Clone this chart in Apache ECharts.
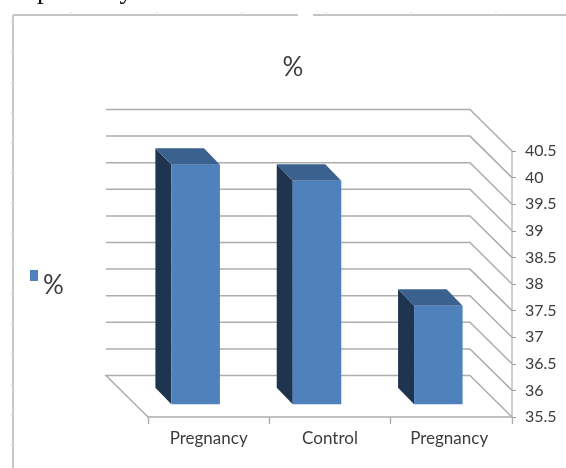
<!DOCTYPE html>
<html>
<head>
<meta charset="utf-8">
<style>html,body{margin:0;padding:0;background:#fff}#c{width:566px;height:468px}</style>
<script src="https://cdn.jsdelivr.net/npm/echarts@6/dist/echarts.min.js"></script>
</head>
<body>
<div id="c"></div>
<script>
// Column values and axis labels
const categories = ['Pregnancy', 'Control', 'Pregnancy '];
const seriesName = '%';
const values = [40.0, 39.7, 37.35];
const axisMin = 35.5;
const axisMax = 40.5;
const axisStep = 0.5;
const gridValues = [35.5, 36, 36.5, 37, 37.5, 38, 38.5, 39, 39.5, 40, 40.5];

// Oblique projection of the box: how far the back wall and the column faces sit from the axis plane
const wallShift = [-42, -41.5];
const columnShift = [-13, -12.8];
const columnDepth = [-16, -16.5];
const columnWidthShare = 0.4;

const FRONT = '#4f81bd', TOP = '#3b618f', SIDE = '#1f344e', GRID = '#adadad', TEXT = '#3c3c3c';
const LABEL_FONT = 'Lato,"Open Sans",sans-serif';

const chart = echarts.init(document.getElementById('c'), null, {renderer: 'canvas'});

// Back wall, side wall and floor lines for one axis value
function renderWall(params, api) {
  const v = api.value(0);
  const gridBox = params.coordSys;
  const right = gridBox.x + gridBox.width, left = gridBox.x;
  const y = api.coord([0, v])[1];
  const back = y + wallShift[1];
  const pts = [[right, y], [right + wallShift[0], back], [left + wallShift[0], back]];
  if (v === axisMin) pts.push([left, y]);
  return {
    type: 'polyline',
    shape: {points: pts},
    style: {fill: null, stroke: GRID, lineWidth: 1.5},
    silent: true
  };
}

// One oblique column: side face, top face, front face
function renderColumn(params, api) {
  const cat = api.value(0), v = api.value(1);
  const w = api.size([1, 0])[0] * columnWidthShare;
  const top = api.coord([cat, v]);
  const base = api.coord([cat, axisMin]);
  const x0 = top[0] + columnShift[0] - w / 2, x1 = x0 + w;
  const yT = top[1] + columnShift[1], yB = base[1] + columnShift[1];
  const dx = columnDepth[0], dy = columnDepth[1];
  return {
    type: 'group',
    children: [
      {type: 'polygon', shape: {points: [[x0, yT], [x0 + dx, yT + dy], [x0 + dx, yB + dy], [x0, yB]]}, style: {fill: SIDE}},
      {type: 'polygon', shape: {points: [[x0, yT], [x1, yT], [x1 + dx, yT + dy], [x0 + dx, yT + dy]]}, style: {fill: TOP}},
      {type: 'rect', shape: {x: x0, y: yT, width: w, height: yB - yT}, style: {fill: FRONT}}
    ]
  };
}

// Outer chart frame with its small ruler marks and the clipped line of body text above it
const frame = [
  {type: 'line', shape: {x1: 13, y1: 15, x2: 298, y2: 15}, style: {stroke: '#b0b0b0', lineWidth: 1.5}},
  {type: 'line', shape: {x1: 313, y1: 15, x2: 566, y2: 15}, style: {stroke: '#b0b0b0', lineWidth: 1.5}},
  {type: 'line', shape: {x1: 13, y1: 15, x2: 13, y2: 468}, style: {stroke: '#c8c8c8', lineWidth: 2}}
];
[71, 157, 242, 326, 411, 496].forEach(x => frame.push({type: 'line', shape: {x1: x, y1: 12, x2: x, y2: 15}, style: {stroke: '#dddddd', lineWidth: 1}}));
[22, 52, 83, 113, 143, 173, 203, 234, 264, 294, 324, 354, 385, 415, 445].forEach(y => frame.push({type: 'line', shape: {x1: 10, y1: y, x2: 13, y2: y}, style: {stroke: '#dddddd', lineWidth: 1}}));
frame.push({type: 'text', style: {x: 37, y: -23, text: 'probably lower in rates.', font: '27px "Liberation Serif"', fill: '#111'}});

chart.setOption({
  animation: false,
  backgroundColor: '#fff',
  title: {
    text: seriesName, left: 293, top: 55, padding: 0, textAlign: 'center',
    textStyle: {fontFamily: LABEL_FONT, fontWeight: 'normal', fontSize: 26, color: TEXT}
  },
  legend: {
    left: 30, top: 270, padding: 0, orient: 'vertical', itemWidth: 8, itemHeight: 31, itemGap: 0,
    // Swatch in the upper part of the item box, so it rides above the text centre
    icon: 'path://M0 0H8V11H0Z M0 31L0 31', data: [seriesName],
    textStyle: {fontFamily: LABEL_FONT, fontSize: 26, color: TEXT}
  },
  grid: {left: 148, right: 54, top: 151, bottom: 51},
  xAxis: {
    type: 'category', data: categories, boundaryGap: true,
    axisLine: {lineStyle: {color: GRID, width: 1.5}},
    axisTick: {show: true, alignWithLabel: false, length: 7, lineStyle: {color: GRID, width: 1.4}},
    axisLabel: {margin: 13, interval: 0, fontFamily: LABEL_FONT, fontSize: 17, color: TEXT},
    splitLine: {show: false}
  },
  yAxis: {
    type: 'value', position: 'right', min: axisMin, max: axisMax, interval: axisStep,
    axisLine: {show: true, lineStyle: {color: '#d0d0d0', width: 2}},
    axisTick: {show: true, length: 4, inside: false, lineStyle: {color: '#9a9a9a'}},
    axisLabel: {margin: 13, fontFamily: LABEL_FONT, fontSize: 16, color: TEXT, padding: [5, 0, 0, 0], formatter: v => String(v)},
    splitLine: {show: false}
  },
  series: [
    {
      type: 'custom', name: 'wall', silent: true, z: 1,
      renderItem: renderWall, data: gridValues.map(v => [v]),
      encode: {y: 0}, clip: false, legendHoverLink: false
    },
    {
      type: 'custom', name: seriesName, z: 2, itemStyle: {color: FRONT},
      renderItem: renderColumn, data: values.map((v, i) => [i, v]),
      encode: {x: 0, y: 1}, clip: false
    }
  ],
  graphic: frame
});
</script>
</body>
</html>
